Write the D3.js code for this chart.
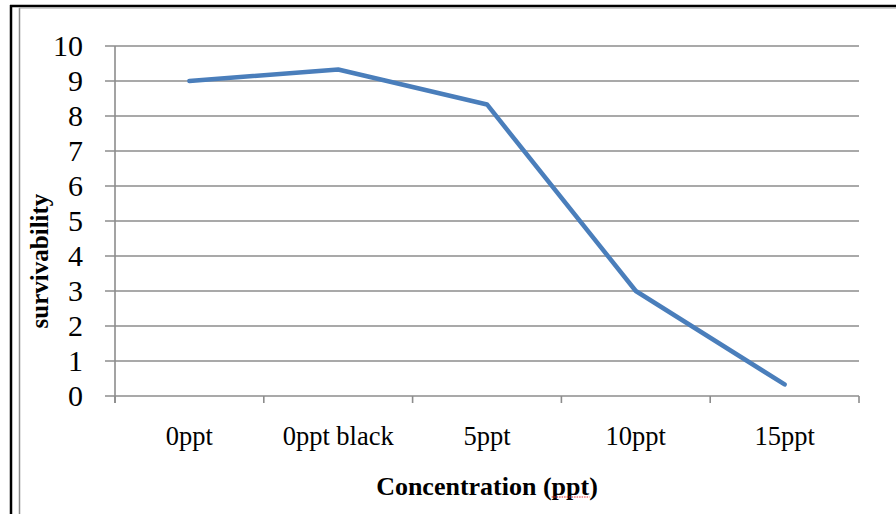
<!DOCTYPE html>
<html>
<head>
<meta charset="utf-8">
<script src="https://cdn.jsdelivr.net/npm/d3@7"></script>
<style>
  body { margin: 0; background: #fff; }
  svg { display: block; }
</style>
</head>
<body>
<svg id="chart"></svg>
<script>
const categories = ['0ppt', '0ppt black', '5ppt', '10ppt', '15ppt'];
const survivability = [9, 9.33, 8.33, 3, 0.33];
const yTicks = [0, 1, 2, 3, 4, 5, 6, 7, 8, 9, 10];

const width = 896, height = 514;
const plot = { left: 115, right: 859, top: 46, bottom: 396 };
const serif = "'Liberation Serif', 'Times New Roman', serif";

const svg = d3.select('#chart').attr('width', width).attr('height', height);

// page frame (black) and chart border (gray)
svg.append('line').attr('x1', 10).attr('y1', 6).attr('x2', width).attr('y2', 6)
  .attr('stroke', '#000').attr('stroke-width', 2.5);
svg.append('line').attr('x1', 11).attr('y1', 5).attr('x2', 11).attr('y2', height)
  .attr('stroke', '#000').attr('stroke-width', 2.5);
svg.append('line').attr('x1', 19.5).attr('y1', 8).attr('x2', 19.5).attr('y2', height)
  .attr('stroke', '#8c8c8c').attr('stroke-width', 1.5);
svg.append('line').attr('x1', 19).attr('y1', 8).attr('x2', width).attr('y2', 8)
  .attr('stroke', '#a0a0a0').attr('stroke-width', 1.2);

const x = d3.scaleBand().domain(categories).range([plot.left, plot.right]).padding(0);
const y = d3.scaleLinear().domain([0, 10]).range([plot.bottom, plot.top]);

// horizontal gridlines with outer ticks
svg.append('g')
  .selectAll('line')
  .data(yTicks)
  .join('line')
  .attr('x1', plot.left - 10)
  .attr('x2', plot.right)
  .attr('y1', (d) => y(d))
  .attr('y2', (d) => y(d))
  .attr('stroke', '#8c8c8c')
  .attr('stroke-width', 1.6);

// y axis line
svg.append('line')
  .attr('x1', plot.left).attr('x2', plot.left)
  .attr('y1', plot.top).attr('y2', plot.bottom + 7)
  .attr('stroke', '#8c8c8c').attr('stroke-width', 1.6);

// x ticks at band edges
const edges = categories.map((c) => x(c)).concat([plot.right]);
svg.append('g')
  .selectAll('line')
  .data(edges)
  .join('line')
  .attr('x1', (d) => d).attr('x2', (d) => d)
  .attr('y1', plot.bottom).attr('y2', plot.bottom + 7)
  .attr('stroke', '#8c8c8c').attr('stroke-width', 1.6);

// y tick labels
svg.append('g')
  .selectAll('text')
  .data(yTicks)
  .join('text')
  .attr('x', 83)
  .attr('y', (d) => y(d))
  .attr('dy', '0.34em')
  .style('font-family', serif)
  .style('font-size', '30px')
  .attr('text-anchor', 'end')
  .attr('fill', '#000')
  .text((d) => d);

// x tick labels
svg.append('g')
  .selectAll('text')
  .data(categories)
  .join('text')
  .attr('x', (d) => x(d) + x.bandwidth() / 2)
  .attr('y', 445)
  .attr('text-anchor', 'middle')
  .style('font-family', serif)
  .style('font-size', '26.5px')
  .attr('fill', '#000')
  .text((d) => d);

// series line
const line = d3.line()
  .x((d, i) => x(categories[i]) + x.bandwidth() / 2)
  .y((d) => y(d));
svg.append('path')
  .datum(survivability)
  .attr('d', line)
  .attr('fill', 'none')
  .attr('stroke', '#4a7ebb')
  .attr('stroke-width', 4.5)
  .attr('stroke-linejoin', 'round')
  .attr('stroke-linecap', 'round');

// axis titles
const xTitle = svg.append('text')
  .attr('x', (plot.left + plot.right) / 2)
  .attr('y', 495)
  .attr('text-anchor', 'middle')
  .style('font-family', serif)
  .style('font-size', '26px')
  .style('font-weight', 'bold')
  .attr('fill', '#000');
xTitle.append('tspan').text('Concentration (');
const ppt = xTitle.append('tspan').text('ppt');
xTitle.append('tspan').text(')');

// spell-check squiggle under "ppt"
const bb = ppt.node().getBBox();
svg.append('line')
  .attr('x1', bb.x).attr('x2', bb.x + bb.width)
  .attr('y1', 497).attr('y2', 497)
  .attr('stroke', '#e03030')
  .attr('stroke-width', 1.2)
  .attr('stroke-dasharray', '1.5,1');

svg.append('text')
  .attr('transform', 'translate(48,261) rotate(-90)')
  .attr('text-anchor', 'middle')
  .style('font-family', serif)
  .style('font-size', '25px')
  .style('font-weight', 'bold')
  .attr('fill', '#000')
  .text('survivability');
</script>
</body>
</html>
